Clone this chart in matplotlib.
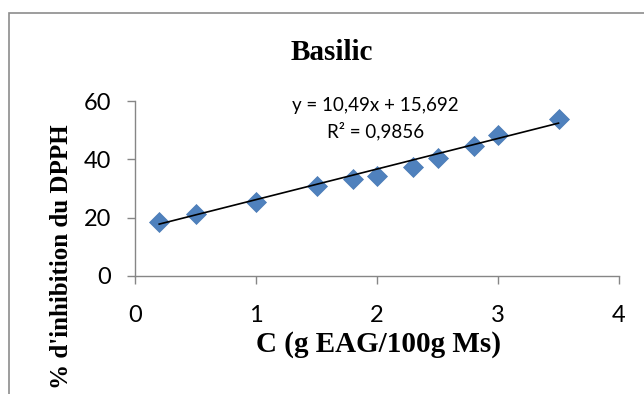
import matplotlib
matplotlib.use("Agg")
import matplotlib.pyplot as plt
import numpy as np
from matplotlib.patches import Rectangle

# concentrations (g EAG/100g Ms) and % inhibition of DPPH
conc = [0.2, 0.5, 1.0, 1.5, 1.8, 2.0, 2.3, 2.5, 2.8, 3.0, 3.5]
inhib = [18.6, 21.4, 25.4, 31.0, 33.4, 34.4, 37.5, 40.3, 44.6, 48.3, 53.9]

# linear trendline as printed on the chart
slope, intercept, r2 = 10.49, 15.692, 0.9856

xticks = [0, 1, 2, 3, 4]
yticks = [0, 20, 40, 60]

W, H = 644, 394
fig = plt.figure(figsize=(W / 100, H / 100), dpi=100)

# outer chart frame (cut off at right/bottom like the source)
fig.patches.append(Rectangle((9 / W, -0.1), 1.2, 1 - 13 / H + 0.1,
                             transform=fig.transFigure, fill=False,
                             edgecolor="#8c8c8c", lw=1.2))

ax = fig.add_axes([135 / W, 1 - 276 / H, (619 - 135) / W, (276 - 101) / H])

ax.plot(conc, inhib, "D", ms=10, color="#4f81bd", mec="#4a7ab5", mew=0.5,
        zorder=3, clip_on=False)
xs = np.array([min(conc), max(conc)])
ax.plot(xs, slope * xs + intercept, "-", color="black", lw=1.2, zorder=4)

ax.set_xlim(0, 4)
ax.set_ylim(0, 60)
ax.set_xticks(xticks)
ax.set_yticks(yticks)
for s in ("top", "right"):
    ax.spines[s].set_visible(False)
for s in ("left", "bottom"):
    ax.spines[s].set_color("#868686")
    ax.spines[s].set_linewidth(1.0)
ax.tick_params(axis="both", direction="out", length=6, width=1.0,
               color="#868686", labelsize=17)
ax.tick_params(axis="x", pad=15)
ax.tick_params(axis="y", pad=11)
for lbl in ax.get_xticklabels() + ax.get_yticklabels():
    lbl.set_fontfamily("Lato")

eq = f"y = {slope:.2f}x + {intercept:.3f}".replace(".", ",")
ax.text(0.4975, 0.975, eq, transform=ax.transAxes, ha="center", va="center",
        fontsize=13.5, family="Lato")
ax.text(0.4975, 0.83, f"R² = {r2:.4f}".replace(".", ","), transform=ax.transAxes,
        ha="center", va="center", fontsize=13.5, family="Lato")

serif = dict(family="Liberation Serif", weight="bold")
fig.text(332 / W, 1 - 52 / H, "Basilic", ha="center", va="center",
         fontsize=21, **serif)
fig.text(378 / W, 1 - 345 / H, "C (g EAG/100g Ms)", ha="center", va="center",
         fontsize=21, **serif)
fig.text(62 / W, 1 - 257 / H, "% d'inhibition du DPPH", ha="center",
         va="center", rotation=90, fontsize=18, **serif)

fig.savefig("out.png", dpi=100)
